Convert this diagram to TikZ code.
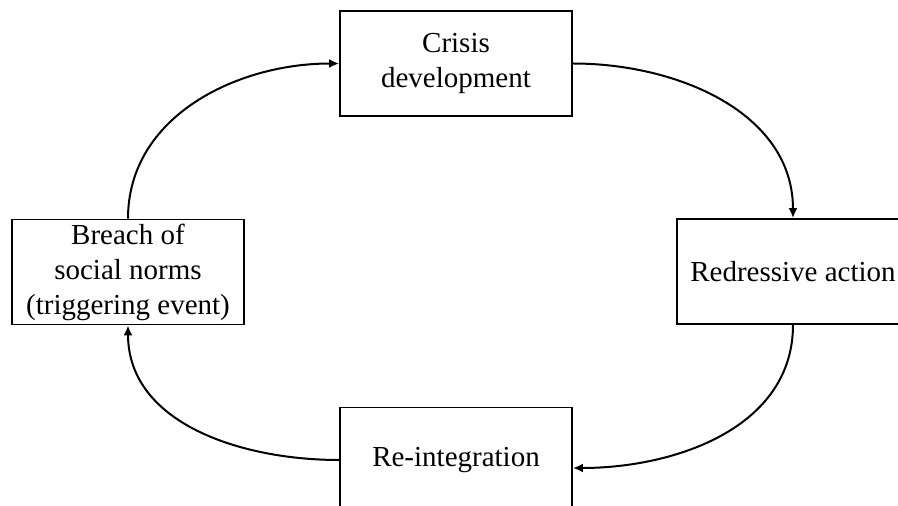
\documentclass[tikz,border=0pt]{standalone}
\usepackage{fontspec}
\setmainfont{Liberation Serif}
\usetikzlibrary{arrows.meta}
\begin{document}
\begin{tikzpicture}[x=1pt,y=1pt,
  stagebox/.style={draw=black,line width=1.8pt,fill=white,minimum width=232pt,minimum height=105pt,
    align=center,inner sep=0pt,font=\fontsize{29pt}{35pt}\selectfont},
  flow/.style={line width=2pt,-{Latex[length=10pt,width=9pt]}}]
\useasboundingbox (0,0) rectangle (898,506);
\clip (0,0) rectangle (898,506);
\fill[white] (0,0) rectangle (898,506);
\node[stagebox] (crisis) at (456,442.5) {Crisis\\development};
\node[stagebox] (breach) at (128,234) {Breach of\\social norms\\(triggering event)};
\node[stagebox] (redress) at (793,234.5) {Redressive action};
\node[stagebox] (reint) at (456,46) {Re-integration};
\draw[flow] (breach.north) to[out=90,in=180] (crisis.west);
\draw[flow] (crisis.east) to[out=0,in=90] (redress.north);
\draw[flow] (redress.south) to[out=-90,in=0] ([yshift=-8pt]reint.east);
\draw[flow] (reint.west) to[out=180,in=-90] (breach.south);
\end{tikzpicture}
\end{document}
